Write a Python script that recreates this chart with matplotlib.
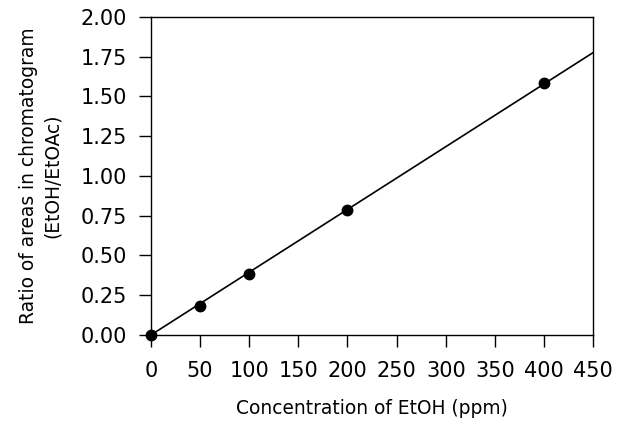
import matplotlib
matplotlib.use("Agg")
import matplotlib.pyplot as plt

# Data
conc = [0, 50, 100, 200, 400]
ratio = [0.0, 0.185, 0.385, 0.787, 1.587]
fit_x = [0, 450]
fit_y = [0.0, 1.776]

xticks = [0, 50, 100, 150, 200, 250, 300, 350, 400, 450]
yticks = [0.0, 0.25, 0.5, 0.75, 1.0, 1.25, 1.5, 1.75, 2.0]

plt.rcParams['font.family'] = ['DejaVu Sans']

fig = plt.figure(figsize=(6.29, 4.24), dpi=100)
ax = fig.add_axes([0.240, 0.210, 0.703, 0.750])

ax.plot(fit_x, fit_y, color='black', linewidth=1.2, zorder=2)
ax.plot(conc, ratio, 'o', color='black', markersize=7.5, zorder=3, clip_on=False)

ax.set_xlim(0, 450)
ax.set_ylim(0, 2.0)
ax.set_xticks(xticks)
ax.set_yticks(yticks)
ax.set_xticklabels([str(t) for t in xticks])
ax.set_yticklabels([f"{t:.2f}" for t in yticks])
ax.tick_params(axis='both', direction='out', length=8.5, width=1.0,
               labelsize=15, colors='black')
ax.tick_params(axis='x', pad=10.5)
ax.tick_params(axis='y', pad=9)

for s in ax.spines.values():
    s.set_linewidth(1.0)
    s.set_color('black')

ax.set_xlabel("Concentration of EtOH (ppm)", fontsize=13.4, labelpad=13)
ax.set_ylabel("Ratio of areas in chromatogram\n(EtOH/EtOAc)", fontsize=13.4,
              labelpad=13, linespacing=1.35)

fig.savefig("out.png", dpi=100)
